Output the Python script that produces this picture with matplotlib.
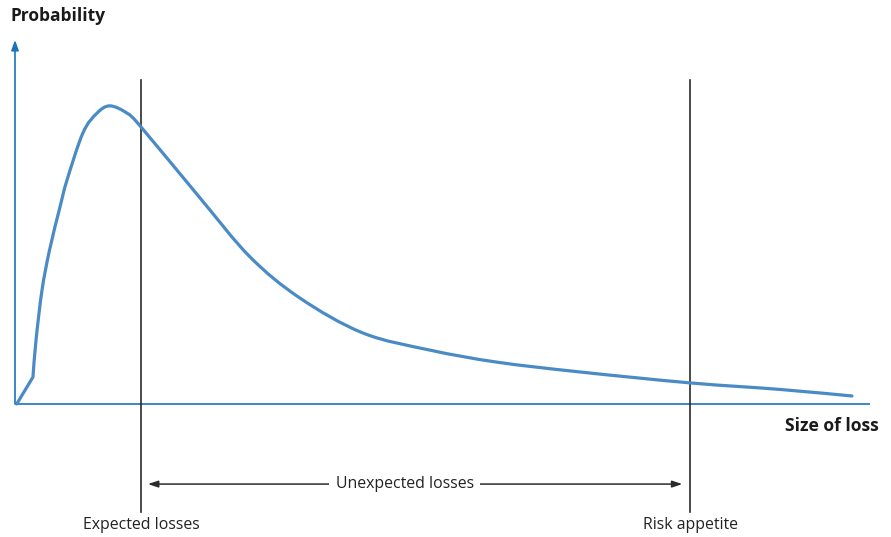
import matplotlib
matplotlib.use("Agg")
import matplotlib.pyplot as plt
from matplotlib.path import Path
from matplotlib.patches import PathPatch

plt.rcParams['font.family'] = ['Open Sans', 'DejaVu Sans']

# Loss distribution curve (size of loss, probability)
loss = [0.2, 2.1, 2.46, 3.16, 4.04, 5.26, 6.08, 7.95, 9.59, 11.1, 13.1, 14.74,
        21.64, 27.49, 33.33, 40.7, 48.54, 56.37, 66.08, 78.95, 89.47,
        97.89]
prob = [0.0, 0.074, 0.176, 0.313, 0.423, 0.541, 0.615, 0.745, 0.799, 0.819,
        0.799, 0.761, 0.566, 0.404, 0.291, 0.195, 0.148, 0.115, 0.088,
        0.058, 0.040, 0.022]

expected_loss = 14.75
risk_appetite = 78.95

axis_label_y = "Probability"
axis_label_x = "Size of loss"
label_expected = "Expected losses"
label_appetite = "Risk appetite"
label_unexpected = "Unexpected losses"

AXIS_BLUE = "#1a73bd"
CURVE_BLUE = "#4a8bc6"
DARK = "#2b2b2b"
TEXT = "#222222"

W, H = 891, 537
fig = plt.figure(figsize=(W / 100, H / 100), dpi=100)
ax = fig.add_axes([15 / W, (H - 404) / H, 855 / W, 364 / H])
ax.set_xlim(0, 100)
ax.set_ylim(0, 1)
ax.axis("off")

# axes
ax.plot([0, 100], [0, 0], color=AXIS_BLUE, lw=1.2, clip_on=False,
        solid_capstyle="butt")
ax.annotate("", xy=(0, 1.0), xytext=(0, 0), xycoords="data",
            arrowprops=dict(arrowstyle="-|>,head_length=0.6,head_width=0.22",
                            color=AXIS_BLUE, lw=1.2, shrinkA=0, shrinkB=0),
            annotation_clip=False)

# curve: straight first segment, then a smooth Catmull-Rom rendering
pts = list(zip(loss, prob))
verts = [pts[0], pts[1]]
codes = [Path.MOVETO, Path.LINETO]
n = len(pts)
for i in range(1, n - 1):
    p0 = pts[i - 1] if i > 1 else pts[i]
    p1 = pts[i]
    p2 = pts[i + 1]
    p3 = pts[i + 2] if i + 2 < n else pts[i + 1]
    c1 = (p1[0] + (p2[0] - p0[0]) / 6, p1[1] + (p2[1] - p0[1]) / 6)
    c2 = (p2[0] - (p3[0] - p1[0]) / 6, p2[1] - (p3[1] - p1[1]) / 6)
    verts += [c1, c2, p2]
    codes += [Path.CURVE4] * 3
curve = PathPatch(Path(verts, codes), fc="none", ec=CURVE_BLUE, lw=2.3,
                  joinstyle="round", capstyle="round", clip_on=False, zorder=3)
ax.add_patch(curve)

# vertical markers
for xv in (expected_loss, risk_appetite):
    ax.plot([xv, xv], [-0.297, 0.89], color=DARK, lw=1.2, clip_on=False,
            zorder=2)

# unexpected losses arrow
ymid = -0.220
ax.annotate("", xy=(expected_loss + 0.8, ymid), xytext=(risk_appetite - 0.9, ymid),
            arrowprops=dict(arrowstyle="<|-|>,head_length=0.6,head_width=0.2",
                            color=DARK, lw=1.1, shrinkA=0, shrinkB=0),
            annotation_clip=False)
ax.text(45.6, ymid, label_unexpected, ha="center", va="center", fontsize=11.4,
        color=TEXT, bbox=dict(boxstyle="square,pad=0.4", fc="white",
                              ec="none"), zorder=5, clip_on=False)

ax.text(expected_loss, -0.332, label_expected, ha="center", va="center",
        fontsize=11.4, color=TEXT, clip_on=False)
ax.text(risk_appetite, -0.332, label_appetite, ha="center", va="center",
        fontsize=11.4, color=TEXT, clip_on=False)

fig.text(10 / W, 1 - 16 / H, axis_label_y, ha="left", va="center",
         fontsize=12.5, fontweight="bold", color="#1a1a1a")
fig.text(879 / W, 1 - 426 / H, axis_label_x, ha="right", va="center",
         fontsize=12.6, fontweight="bold", color="#1a1a1a")

fig.savefig("out.png", dpi=100, facecolor="white")
